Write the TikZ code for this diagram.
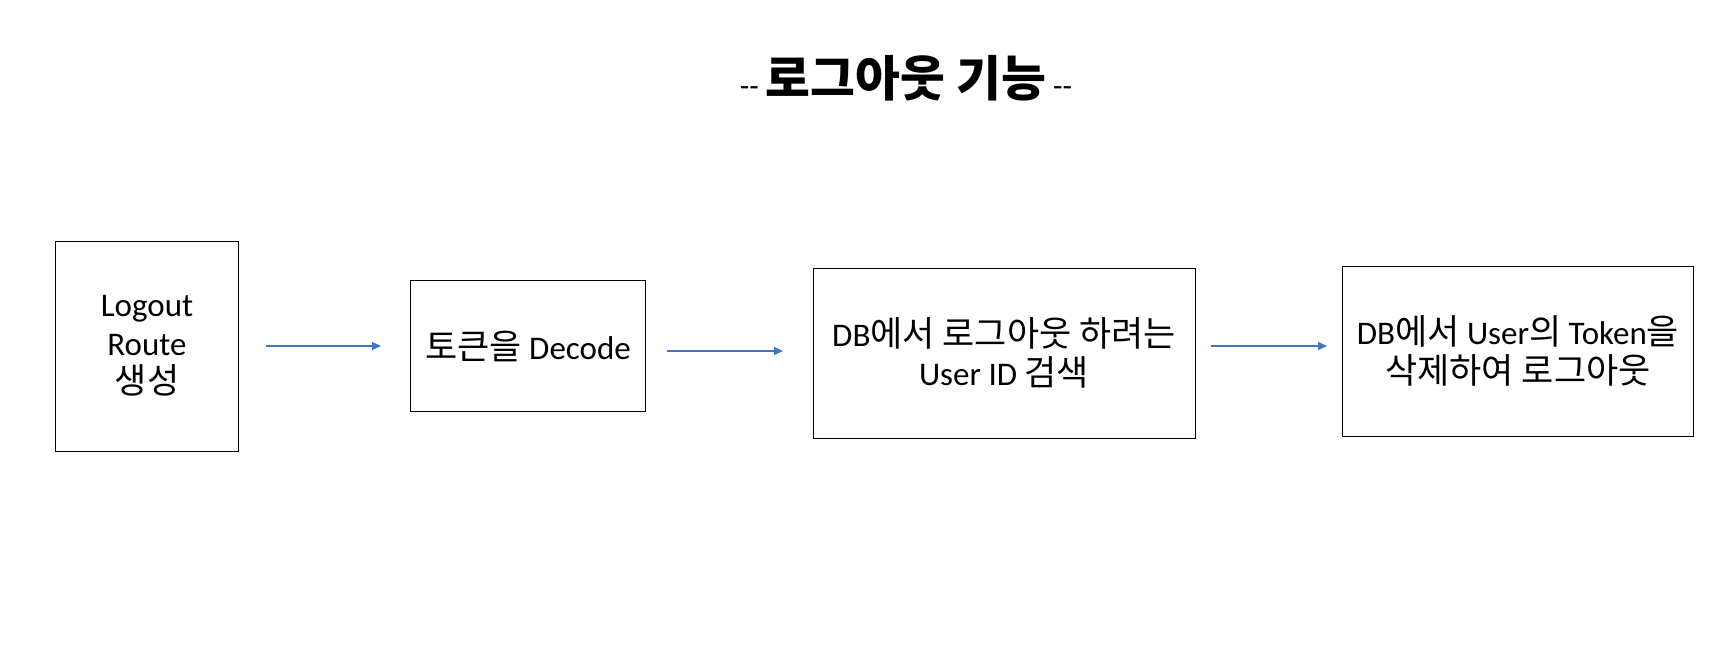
\documentclass[tikz,border=0pt]{standalone}
\usepackage{fontspec}
\setmainfont{Carlito}
\newfontfamily\kr{Noto Sans CJK KR}[Scale=1.06]
\usetikzlibrary{arrows.meta}
\definecolor{arrblue}{HTML}{4472C4}
\tikzset{
  box/.style={draw=black, line width=1pt, inner sep=0pt, align=center,
    font=\fontsize{33}{38.6}\selectfont},
  arr/.style={draw=arrblue, line width=1.2pt, -{Triangle[length=9pt,width=8pt]}},
}
\begin{document}
\begin{tikzpicture}[x=1pt,y=-1pt]
\useasboundingbox (0,0) rectangle (1730,654);
\node (title) at (906,78) {\fontsize{31}{36}\selectfont -{}- {\kr\bfseries\fontsize{46}{52}\selectfont 로그아웃 기능} -{}-};
\node[box, minimum width=183pt, minimum height=210pt] (b1) at (147,346) {Logout\\Route\\{\kr 생성}};
\node[box, minimum width=235pt, minimum height=131pt] (b2) at (528,346) {{\kr 토큰을} Decode};
\node[box, minimum width=382pt, minimum height=170pt] (b3) at (1004,353) {DB{\kr 에서 로그아웃 하려는}\\User ID {\kr 검색}};
\node[box, minimum width=351pt, minimum height=170pt] (b4) at (1518,351) {DB{\kr 에서} User{\kr 의} Token{\kr 을}\\{\kr 삭제하여 로그아웃}};
\coordinate (a1s) at ([xshift=27pt]b1.east);
\coordinate (a1e) at ([xshift=-29pt]b2.west);
\coordinate (a2s) at (667,351);
\coordinate (a2e) at (783,351);
\coordinate (a3s) at (1211,346);
\coordinate (a3e) at (1327,346);
\draw[arr] (a1s) -- (a1e);
\draw[arr] (a2s) -- (a2e);
\draw[arr] (a3s) -- (a3e);
\end{tikzpicture}
\end{document}
